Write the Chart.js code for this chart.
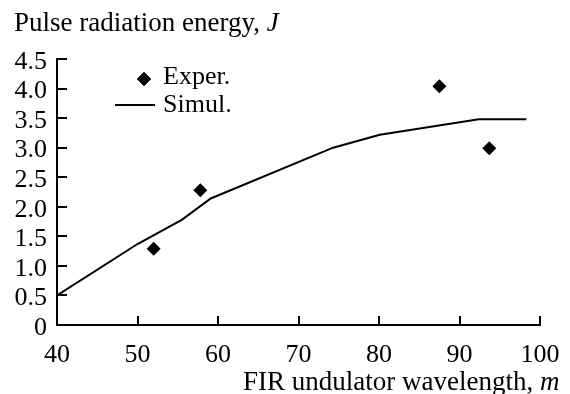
<!DOCTYPE html>
<html>
<head>
<meta charset="utf-8">
<script src="https://cdn.jsdelivr.net/npm/chart.js@4"></script>
<style>
  body { margin: 0; background: #fff; }
  #wrap { width: 570px; height: 394px; position: relative; }
</style>
</head>
<body>
<div id="wrap"><canvas id="grafico" width="570" height="394"></canvas></div>
<script>
// Dados
const experX = [52, 57.8, 87.5, 93.7];
const experY = [1.29, 2.28, 4.04, 2.99];
const simulX = [40, 50, 55.5, 59.1, 74.3, 80.1, 92.4, 98.3];
const simulY = [0.5, 1.37, 1.78, 2.14, 3.0, 3.22, 3.48, 3.48];
const xTicks = [40, 50, 60, 70, 80, 90, 100];
const yTicks = [0, 0.5, 1, 1.5, 2, 2.5, 3, 3.5, 4, 4.5];

const fonte = 'Liberation Serif';

// Títulos, legenda e marcas de escala voltadas para dentro
const extras = {
  id: 'extras',
  afterDraw(chart) {
    const { ctx, chartArea, scales } = chart;
    const x = scales.x, y = scales.y;
    ctx.save();
    ctx.strokeStyle = '#000';
    ctx.lineWidth = 2;
    ctx.beginPath();
    yTicks.forEach(v => {
      const py = Math.round(y.getPixelForValue(v));
      ctx.moveTo(chartArea.left, py);
      ctx.lineTo(chartArea.left + 10, py);
    });
    xTicks.forEach(v => {
      const px = Math.round(x.getPixelForValue(v));
      ctx.moveTo(px, chartArea.bottom);
      ctx.lineTo(px, chartArea.bottom - 9);
    });
    ctx.stroke();

    ctx.fillStyle = '#000';
    ctx.textBaseline = 'alphabetic';
    ctx.font = '27px ' + fonte;
    ctx.textAlign = 'left';
    ctx.fillText('Pulse radiation energy, ', 14, 31);
    let w = ctx.measureText('Pulse radiation energy, ').width;
    ctx.font = 'italic 27px ' + fonte;
    ctx.fillText('J', 14 + w, 31);

    ctx.font = '27px ' + fonte;
    ctx.textAlign = 'right';
    ctx.fillText('FIR undulator wavelength, ', 540, 390);
    ctx.font = 'italic 27px ' + fonte;
    ctx.textAlign = 'left';
    ctx.fillText('m', 540, 390);

    // legenda
    const lx = chartArea.left, ly = chartArea.top;
    Chart.helpers.drawPoint(ctx, { pointStyle: 'rectRot', radius: 7, borderWidth: 0 }, lx + 87, ly + 20);
    ctx.fill();
    ctx.beginPath();
    ctx.lineWidth = 2;
    ctx.moveTo(lx + 58, ly + 46);
    ctx.lineTo(lx + 98, ly + 46);
    ctx.stroke();
    ctx.font = '26px ' + fonte;
    ctx.fillText('Exper.', lx + 106, ly + 25);
    ctx.fillText('Simul.', lx + 106, ly + 53);
    ctx.restore();
  }
};

new Chart(document.getElementById('grafico'), {
  type: 'scatter',
  data: {
    datasets: [
      {
        label: 'Exper.',
        data: experX.map((v, i) => ({ x: v, y: experY[i] })),
        pointStyle: 'rectRot',
        pointRadius: 7,
        backgroundColor: '#000',
        borderWidth: 0
      },
      {
        label: 'Simul.',
        type: 'line',
        data: simulX.map((v, i) => ({ x: v, y: simulY[i] })),
        borderColor: '#000',
        borderWidth: 2,
        pointRadius: 0,
        fill: false,
        tension: 0
      }
    ]
  },
  options: {
    responsive: false,
    animation: false,
    layout: { padding: { top: 59, right: 30, left: 0, bottom: 0 } },
    plugins: { legend: { display: false }, tooltip: { enabled: false } },
    scales: {
      x: {
        type: 'linear',
        min: 40, max: 100,
        afterBuildTicks: s => { s.ticks = xTicks.map(v => ({ value: v })); },
        afterFit: s => { s.height = 69; s.paddingRight = 0; s.paddingLeft = 0; },
        grid: { display: false, drawTicks: false },
        border: { display: true, color: '#000', width: 2 },
        ticks: { color: '#000', font: { family: fonte, size: 26 }, padding: 15, maxRotation: 0, autoSkip: false }
      },
      y: {
        min: 0, max: 4.5,
        afterBuildTicks: s => { s.ticks = yTicks.map(v => ({ value: v })); },
        afterFit: s => { s.width = 57; },
        grid: { display: false, drawTicks: false },
        border: { display: true, color: '#000', width: 2 },
        ticks: {
          color: '#000', font: { family: fonte, size: 26 }, padding: 10, autoSkip: false, labelOffset: 3,
          callback: v => v === 0 ? '0' : v.toFixed(1)
        }
      }
    }
  },
  plugins: [extras]
});
</script>
</body>
</html>
